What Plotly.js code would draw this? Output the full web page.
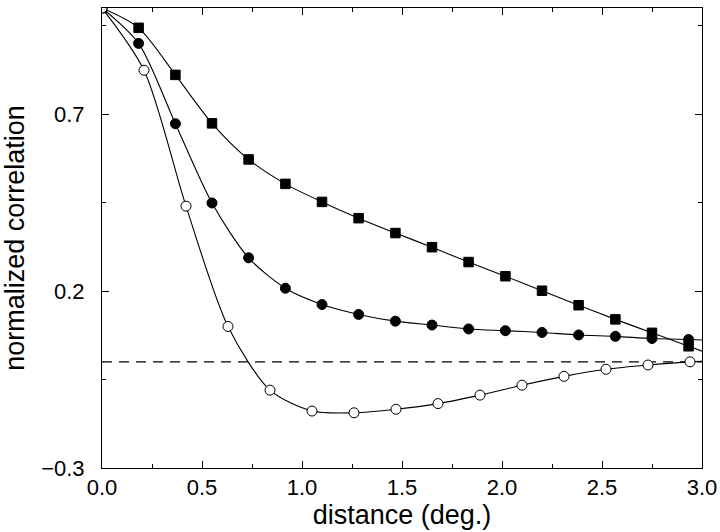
<!DOCTYPE html>
<html>
<head>
<meta charset="utf-8">
<script src="https://cdn.plot.ly/plotly-3.0.1.min.js"></script>
<style>
  html, body { margin: 0; padding: 0; background: #fff; }
  #chart { width: 720px; height: 532px; }
</style>
</head>
<body>
<div id="chart"></div>
<script>
// Filled squares (last value lies just beyond the axis range, so only its line segment shows)
const squareX = [0, 0.183, 0.367, 0.55, 0.733, 0.917, 1.1, 1.283, 1.467, 1.65, 1.833, 2.017, 2.2, 2.383, 2.567, 2.75, 2.933, 3.117];
const squareY = [1.0, 0.944, 0.811, 0.674, 0.572, 0.503, 0.452, 0.406, 0.364, 0.324, 0.282, 0.242, 0.201, 0.160, 0.120, 0.082, 0.044, 0.006];

// Filled circles
const filledX = [0, 0.183, 0.367, 0.55, 0.733, 0.917, 1.1, 1.283, 1.467, 1.65, 1.833, 2.017, 2.2, 2.383, 2.567, 2.75, 2.933, 3.117];
const filledY = [1.0, 0.900, 0.673, 0.449, 0.294, 0.208, 0.162, 0.134, 0.115, 0.104, 0.093, 0.088, 0.083, 0.076, 0.072, 0.066, 0.063, 0.060];

// Open circles
const openX = [0, 0.21, 0.42, 0.63, 0.84, 1.05, 1.26, 1.47, 1.68, 1.89, 2.10, 2.31, 2.52, 2.73, 2.94, 3.15];
const openY = [1.0, 0.824, 0.440, 0.100, -0.080, -0.139, -0.144, -0.134, -0.118, -0.094, -0.066, -0.041, -0.021, -0.009, 0.0, 0.003];

const baselineY = 0;
const xTitle = 'distance (deg.)';
const yTitle = 'normalized correlation';

const fontFamily = '"Liberation Sans", Arial, Helvetica, sans-serif';

const traces = [
  {
    x: squareX, y: squareY, type: 'scatter', mode: 'lines+markers',
    line: { color: '#000', width: 1.1, shape: 'spline', smoothing: 0.8 },
    marker: { symbol: 'square', size: 9.5, color: '#000', line: { color: '#000', width: 1 } },
    hoverinfo: 'x+y', showlegend: false
  },
  {
    x: filledX, y: filledY, type: 'scatter', mode: 'lines+markers',
    line: { color: '#000', width: 1.1, shape: 'spline', smoothing: 0.8 },
    marker: { symbol: 'circle', size: 10, color: '#000', line: { color: '#000', width: 1 } },
    hoverinfo: 'x+y', showlegend: false
  },
  {
    x: openX, y: openY, type: 'scatter', mode: 'lines+markers',
    line: { color: '#000', width: 1.1, shape: 'spline', smoothing: 0.8 },
    marker: { symbol: 'circle', size: 10, color: '#fff', line: { color: '#000', width: 1 } },
    hoverinfo: 'x+y', showlegend: false
  }
];

const layout = {
  width: 720, height: 532,
  margin: { l: 102, r: 18, t: 8, b: 64 },
  paper_bgcolor: '#fff', plot_bgcolor: '#fff',
  font: { family: fontFamily, color: '#000', size: 22 },
  showlegend: false,
  xaxis: {
    range: [0, 3], tick0: 0, dtick: 0.5, tickformat: '.1f',
    ticks: 'inside', ticklen: 7, tickwidth: 1, tickcolor: '#000',
    minor: { tick0: 0, dtick: 0.25, ticks: 'inside', ticklen: 4, tickwidth: 1, tickcolor: '#000' },
    showline: true, linecolor: '#000', linewidth: 1, mirror: 'allticks',
    showgrid: false, zeroline: false,
    tickfont: { family: fontFamily, size: 22, color: '#000' },
    title: { text: xTitle, font: { family: fontFamily, size: 27, color: '#000' }, standoff: 2 }
  },
  yaxis: {
    range: [-0.3, 1.0], tick0: -0.3, dtick: 0.5, tickformat: '.1f',
    ticks: 'inside', ticklen: 7, tickwidth: 1, tickcolor: '#000',
    minor: { tick0: -0.3, dtick: 0.25, ticks: 'inside', ticklen: 4, tickwidth: 1, tickcolor: '#000' },
    showline: true, linecolor: '#000', linewidth: 1, mirror: 'allticks',
    showgrid: false, zeroline: false,
    ticklabelstandoff: 12,
    tickfont: { family: fontFamily, size: 22, color: '#000' },
    title: { text: yTitle, font: { family: fontFamily, size: 27, color: '#000' }, standoff: 10 }
  },
  shapes: [
    { type: 'line', xref: 'paper', yref: 'y', x0: 0, x1: 1, y0: baselineY, y1: baselineY,
      line: { color: '#000', width: 1.2, dash: '10px,7px' }, layer: 'below' }
  ]
};

Plotly.newPlot('chart', traces, layout, { displayModeBar: false, staticPlot: true });
</script>
</body>
</html>
